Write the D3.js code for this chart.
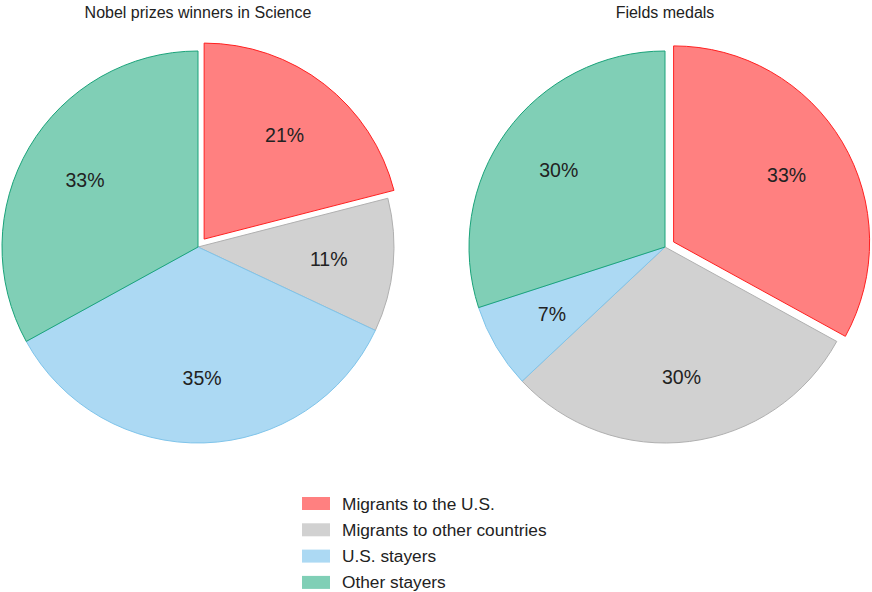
<!DOCTYPE html>
<html>
<head>
<meta charset="utf-8">
<script src="https://cdn.jsdelivr.net/npm/d3@7"></script>
<style>
  body { margin: 0; background: #fff; }
  text { font-family: "Liberation Sans", Arial, sans-serif; fill: #222; }
</style>
</head>
<body>
<div id="chart"></div>
<script>
// data
var categories = ["Migrants to the U.S.", "Migrants to other countries", "U.S. stayers", "Other stayers"];
var titles = ["Nobel prizes winners in Science", "Fields medals"];
var nobelValues = [21, 11, 35, 33];
var fieldsValues = [33, 30, 7, 30];

var fills = ["#ff8080", "#d1d1d1", "#acd9f3", "#80cfb6"];
var strokes = ["#ff2020", "#b0b0b0", "#7fc4ea", "#1aa37a"];

var WIDTH = 872, HEIGHT = 592;
var R = 196, EXPLODE = 10;

var svg = d3.select("#chart").append("svg")
    .attr("width", WIDTH)
    .attr("height", HEIGHT);

var pie = d3.pie().sort(null).value(function (d) { return d; });
var arc = d3.arc().innerRadius(0).outerRadius(R);
var labelArc = d3.arc().innerRadius(R * 0.67).outerRadius(R * 0.67);

function drawPie(values, title, cx, cy) {
    var g = svg.append("g").attr("transform", "translate(" + cx + "," + cy + ")");
    var arcs = pie(values);

    // the first slice (migrants to the U.S.) is pulled out
    function shift(d, i) {
        if (i !== 0) return "translate(0,0)";
        var a = (d.startAngle + d.endAngle) / 2;
        return "translate(" + (Math.sin(a) * EXPLODE) + "," + (-Math.cos(a) * EXPLODE) + ")";
    }

    g.selectAll("path")
        .data(arcs)
        .enter().append("path")
        .attr("d", arc)
        .attr("transform", shift)
        .attr("fill", function (d, i) { return fills[i]; })
        .attr("stroke", function (d, i) { return strokes[i]; })
        .attr("stroke-width", 1);

    g.selectAll("text.lbl")
        .data(arcs)
        .enter().append("text")
        .attr("class", "lbl")
        .attr("transform", function (d, i) {
            var c = labelArc.centroid(d);
            if (i === 0) {
                var a = (d.startAngle + d.endAngle) / 2;
                c[0] += Math.sin(a) * EXPLODE;
                c[1] -= Math.cos(a) * EXPLODE;
            }
            return "translate(" + c + ")";
        })
        .attr("text-anchor", "middle")
        .attr("dy", "0.35em")
        .style("font-size", "19.5px")
        .text(function (d) { return d.data + "%"; });

    svg.append("text")
        .attr("x", cx)
        .attr("y", 18)
        .attr("text-anchor", "middle")
        .style("font-size", "16px")
        .text(title);
}

drawPie(nobelValues, titles[0], 198, 247);
drawPie(fieldsValues, titles[1], 665, 247);

// legend
var legend = svg.append("g").attr("transform", "translate(302,497)");
var row = legend.selectAll("g")
    .data(categories)
    .enter().append("g")
    .attr("transform", function (d, i) { return "translate(0," + (i * 26.3) + ")"; });

row.append("rect")
    .attr("width", 28)
    .attr("height", 13)
    .attr("fill", function (d, i) { return fills[i]; });

row.append("text")
    .attr("x", 40)
    .attr("y", 6.5)
    .attr("dy", "0.35em")
    .style("font-size", "17.3px")
    .text(function (d) { return d; });
</script>
</body>
</html>
